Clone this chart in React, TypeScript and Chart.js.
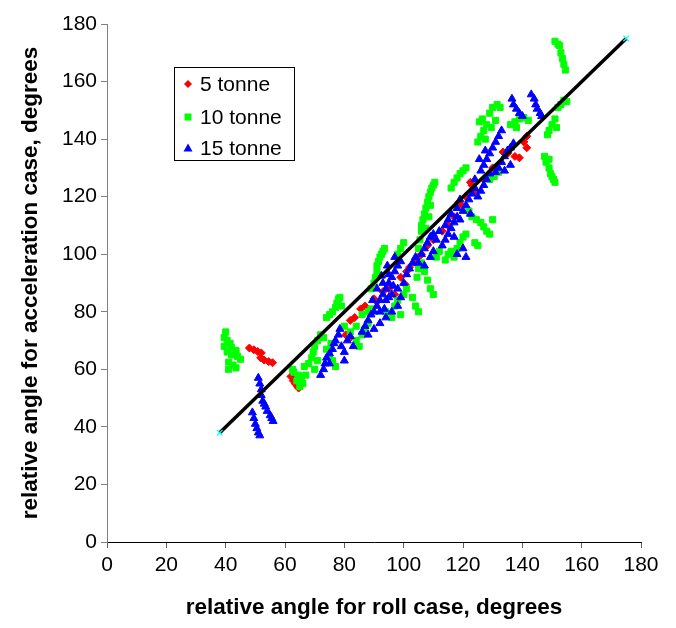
import { useEffect, useRef } from "react";
import { Chart, registerables } from "chart.js";

Chart.register(...registerables);

const seriesNames = ["5 tonne", "10 tonne", "15 tonne"];
const xTitle = "relative angle for roll case, degrees";
const yTitle = "relative angle for acceleration case, degrees";
const axisMin = 0;
const axisMax = 180;
const axisStep = 20;

const tonne5: [number, number][] = [
  [48, 67.4], [49.5, 66.8], [50.8, 66.2], [52, 65.7], [51.8, 64], [53, 63.2], [54.5, 62.7], [55.8, 62.3],
  [62, 57.5], [62.8, 56], [63.5, 55], [64.2, 54], [64.6, 53.5],
  [80.5, 72], [82, 71], [82, 77], [83.5, 78], [85.5, 81], [87, 82], [90, 84.5], [91, 83.5],
  [93, 87], [95, 88], [97, 86], [99, 92], [100.5, 89.5], [101, 94], [102, 95.5], [104, 97], [105, 99],
  [106, 100], [108, 103], [110, 105], [113, 108], [115, 110], [117, 113], [118.5, 118], [119.5, 117],
  [121, 120], [122.5, 125], [123, 124], [124, 122], [127, 126], [130, 130], [133.5, 135.5], [135, 135],
  [137.5, 134], [139, 133.5], [140.5, 139], [141.5, 141], [141.5, 137],
];

const tonne10: [number, number][] = [
  [40, 73], [39.5, 71], [40.5, 70], [41.5, 69], [39.5, 68], [42, 67.5], [43.5, 66.5], [40.5, 66], [42, 65],
  [44, 64.5], [45, 63.5], [41, 62.5], [42.5, 61.5], [43.5, 60.5], [41, 60],
  [62.5, 60], [63, 59], [64.5, 58], [65.5, 57], [64, 56], [66, 55], [65, 54], [67, 58], [68, 62], [66.5, 61],
  [69, 64], [70, 60], [71, 63], [69.5, 66],
  [70, 68], [71, 70], [72, 72], [73, 71], [74, 67], [75, 65], [76, 63], [77, 61], [75.5, 69], [74, 78], [75, 79],
  [76, 80], [77, 81.5], [77.5, 83], [78, 84.5], [78.5, 85], [79, 82],
  [80, 75], [82, 73], [84, 70], [85, 68], [86, 72], [87, 74], [88, 76], [86, 79], [88, 80], [89, 81], [84, 75],
  [89, 88], [90, 90], [90.5, 92], [91, 94], [91, 96], [91.5, 97.5], [92, 99], [92.5, 100], [93, 101], [93.5, 102],
  [94, 80], [96, 78], [97, 82], [98, 84], [99, 79], [100, 86], [101, 88], [103, 85], [104, 82], [105, 80],
  [105, 102], [105.5, 105], [106, 108], [106, 110], [106.5, 112], [107, 114], [107.5, 116], [108, 118],
  [108.5, 120], [109, 121.5], [109.5, 123], [110, 124], [110.5, 125], [107.5, 109], [108.5, 113], [109, 117],
  [104.5, 92], [105, 95], [106, 97], [107, 94], [108, 91], [109, 88], [110, 86], [111, 99], [112, 101],
  [114, 98], [115, 100], [116, 101], [117, 99], [118, 102], [119, 104], [120, 106], [121, 107],
  [116, 123], [117, 125], [118, 126.5], [119, 128], [120, 129], [121, 130],
  [122, 115], [123, 113], [124.5, 112], [126, 111], [127, 109.5], [128, 108], [129, 107], [130, 112], [124, 104], [125, 103],
  [125, 139], [126, 141], [127, 143], [128, 145], [125.5, 146], [126.5, 147], [129, 149], [130, 151], [131.5, 152],
  [132.5, 151], [127.5, 140], [129.5, 144], [131, 146.5],
  [136, 145], [137.5, 146], [139, 147], [140.5, 147.5], [142, 146.5], [138, 144],
  [147.5, 134], [148, 132], [149, 130], [149.5, 128], [150, 127], [150.5, 126], [151, 125], [149, 133],
  [148.5, 141.5], [149, 143], [150, 145], [151, 147], [151.5, 144],
  [152, 151], [153, 152], [154, 153.5], [155, 153],
  [151, 174], [152, 173], [153, 170], [153.5, 168], [154, 166], [154.5, 164], [152.5, 172.5],
  [129, 126], [130.5, 127], [132, 128.5],
  [98, 100], [99, 102], [100, 104],
];

const tonne15: [number, number][] = [
  [51, 57], [51.5, 55], [52, 53], [52, 51], [52.5, 49], [53, 48], [53.5, 47], [54, 45.5], [55, 44], [55.5, 43],
  [56, 42], [49, 45], [49.5, 43], [50, 41], [50.5, 39.5], [51, 38], [51.5, 37],
  [72, 58], [73, 60], [73.5, 62], [74, 64], [75, 65.5], [76, 67], [76.5, 69], [77, 70], [78, 72], [78.5, 74],
  [79, 68], [80, 66], [81, 70], [82, 71.5], [83, 68], [80, 63], [75, 62],
  [86, 73], [87, 75], [88, 77], [89, 79], [90, 80], [91, 82], [92, 84], [93, 86], [94, 88], [95, 90], [96, 92],
  [97, 94], [98, 96], [99, 97.5], [88, 72], [90, 74], [92, 76], [94, 78], [96, 80], [98, 82], [91, 88], [93, 90],
  [95, 93], [94, 84], [96, 86], [98, 88], [100, 90], [92, 80], [97, 99], [95, 85],
  [89.5, 84], [93.5, 81], [96.5, 89], [99, 85], [94.5, 96], [92.5, 92.5],
  [101, 93], [102, 95], [103, 97], [104, 99], [105, 97], [106, 100], [107, 102], [108, 104], [109, 106],
  [110, 107], [111, 105], [112, 108], [107, 96], [109, 99], [110, 101],
  [113, 103], [114, 105], [115, 107], [116, 109], [117, 111], [118, 113], [114, 110], [115, 112], [116, 114],
  [118, 116], [119, 119], [117, 106], [118, 100], [120, 102], [121, 99],
  [119, 112], [120, 115], [121, 117], [122, 119], [123, 121], [124, 123], [125, 120], [126, 122], [127, 124],
  [128, 126], [126, 129], [127, 131], [128, 133], [129, 135], [130, 137], [131, 139], [132, 141], [133, 143],
  [124, 126], [129, 128], [131, 128.5], [125.5, 133], [127.5, 136], [122.5, 114],
  [132, 130], [133, 132], [134, 134], [135, 136], [136, 137], [137, 138.5], [134, 129], [136, 131],
  [136.5, 154], [137, 152], [138, 150.5], [139, 149], [140, 148],
  [143, 155.5], [144, 154], [144.5, 152], [145, 150.5], [146, 149], [146.5, 148],
];

const fitLine: [number, number][] = [
  [38, 38],
  [175, 175],
];

const toPts = (a: [number, number][]) => a.map(([x, y]) => ({ x, y }));

const FONT = "'Liberation Sans', Arial, sans-serif";

const boxLegend = {
  id: "boxLegend",
  afterDatasetsDraw(chart: any) {
    const ctx = chart.ctx as CanvasRenderingContext2D;
    ctx.save();
    const bx = 174.5, by = 67.5, bw = 120, bh = 93;
    ctx.fillStyle = "#ffffff";
    ctx.fillRect(bx, by, bw, bh);
    ctx.strokeStyle = "#000000";
    ctx.lineWidth = 1;
    ctx.strokeRect(bx, by, bw, bh);
    const rows = [84, 117, 148];
    const cx = 188;
    chart.data.datasets.slice(0, 3).forEach((ds: any, i: number) => {
      const y = rows[i];
      ctx.fillStyle = ds.backgroundColor;
      ctx.beginPath();
      if (i === 0) {
        ctx.moveTo(cx, y - 4);
        ctx.lineTo(cx + 4, y);
        ctx.lineTo(cx, y + 4);
        ctx.lineTo(cx - 4, y);
        ctx.closePath();
      } else if (i === 1) {
        ctx.rect(cx - 3.5, y - 3.5, 7, 7);
      } else {
        ctx.moveTo(cx, y - 4.5);
        ctx.lineTo(cx + 4.5, y + 3.5);
        ctx.lineTo(cx - 4.5, y + 3.5);
        ctx.closePath();
      }
      ctx.fill();
      ctx.fillStyle = "#000000";
      ctx.font = `21px ${FONT}`;
      ctx.textBaseline = "middle";
      ctx.textAlign = "left";
      ctx.fillText(ds.label, 200, y + 1);
    });
    ctx.restore();
  },
};

export default function App() {
  const ref = useRef<HTMLCanvasElement | null>(null);
  useEffect(() => {
    if (!ref.current) return;
    const tickFont = { family: FONT, size: 21 };
    const titleFont = { family: FONT, size: 22.5, weight: "bold" as const };
    const chart = new Chart(ref.current, {
      type: "scatter",
      data: {
        datasets: [
          {
            label: seriesNames[0],
            data: toPts(tonne5),
            backgroundColor: "#ff0000",
            borderColor: "#ff0000",
            pointStyle: "rectRot",
            pointRadius: 4,
            pointBorderWidth: 1,
            order: 3,
          },
          {
            label: seriesNames[1],
            data: toPts(tonne10),
            backgroundColor: "#00ff00",
            borderColor: "#00ff00",
            pointStyle: "rect",
            pointRadius: 4.3,
            pointBorderWidth: 1,
            order: 2,
          },
          {
            label: seriesNames[2],
            data: toPts(tonne15),
            backgroundColor: "#0000ff",
            borderColor: "#0000ff",
            pointStyle: "triangle",
            pointRadius: 4.6,
            pointBorderWidth: 1,
            order: 1,
          },
          {
            type: "line",
            label: "fit",
            data: toPts(fitLine),
            borderColor: "#000000",
            backgroundColor: "#000000",
            borderWidth: 3.5,
            showLine: true,
            pointStyle: "crossRot",
            pointRadius: 4,
            pointBorderColor: "#00ffff",
            pointBorderWidth: 1.2,
            order: 0,
          } as any,
        ],
      },
      options: {
        animation: false,
        responsive: false,
        events: [],
        layout: { padding: { top: 24, right: 35, left: 0, bottom: 0 } },
        plugins: {
          legend: { display: false },
          tooltip: { enabled: false },
          title: { display: false },
        },
        scales: {
          x: {
            type: "linear",
            min: axisMin,
            max: axisMax,
            afterFit: (s: any) => {
              s.height = 86;
            },
            ticks: {
              stepSize: axisStep,
              color: "#000000",
              font: tickFont,
              padding: 5,
              maxRotation: 0,
              autoSkip: false,
            },
            grid: {
              drawOnChartArea: false,
              drawTicks: true,
              tickLength: 6,
              color: "#606060",
            },
            border: { display: true, color: "#000000", width: 1 },
            title: {
              display: true,
              text: xTitle,
              color: "#000000",
              font: titleFont,
              padding: { top: 0, bottom: 7 },
            },
          },
          y: {
            type: "linear",
            min: axisMin,
            max: axisMax,
            afterFit: (s: any) => {
              s.width = 107;
            },
            ticks: {
              stepSize: axisStep,
              color: "#000000",
              font: tickFont,
              padding: 4,
              autoSkip: false,
            },
            grid: {
              drawOnChartArea: false,
              drawTicks: true,
              tickLength: 6,
              color: "#808080",
            },
            border: { display: true, color: "#808080", width: 1 },
            title: {
              display: true,
              text: yTitle,
              color: "#000000",
              font: titleFont,
              padding: { top: 17, bottom: 0 },
            },
          },
        },
      },
      plugins: [boxLegend],
    });
    return () => chart.destroy();
  }, []);
  return (
    <div style={{ position: "absolute", left: 0, top: 0, width: 676, height: 628, background: "#fff" }}>
      <canvas ref={ref} width={676} height={628} style={{ display: "block" }} />
    </div>
  );
}
